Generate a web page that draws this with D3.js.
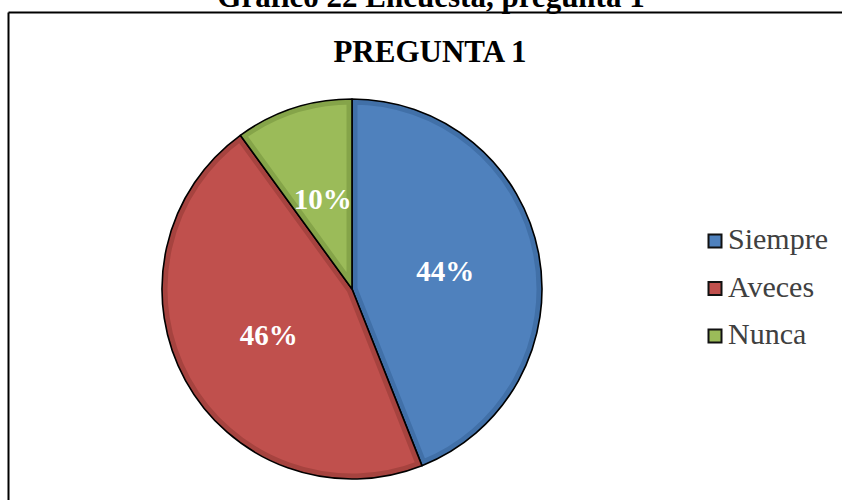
<!DOCTYPE html>
<html>
<head>
<meta charset="utf-8">
<script src="https://cdn.jsdelivr.net/npm/d3@7"></script>
<style>
  body { margin: 0; background: #fff; }
  svg { display: block; font-family: "Liberation Serif", "Times New Roman", serif; }
</style>
</head>
<body>
<svg id="pie"></svg>
<script>
// data
let categories = ['Siempre', 'Aveces', 'Nunca'];
let values = [44, 46, 10];
let colors = ['#4f81bd', '#c0504d', '#9bbb59'];
let edges = ['#4170a8', '#a6433f', '#85a449'];

// svg / plot configuration
let config = { 'svg': {}, 'pie': {}, 'legend': {} };
config.svg.width = 842;
config.svg.height = 500;
config.pie.x = 352;
config.pie.y = 289;
config.pie.radius = 190;
config.legend.x = 707;
config.legend.y = 233;
config.legend.step = 47.5;

let svg = d3.select('svg#pie');
svg.attr('width', config.svg.width);
svg.attr('height', config.svg.height);

// frame of the figure
svg.append('line')
  .attr('x1', 8.5).attr('x2', 842)
  .attr('y1', 12.5).attr('y2', 12.5)
  .style('stroke', '#000').style('stroke-width', 2);
svg.append('line')
  .attr('x1', 8.5).attr('x2', 8.5)
  .attr('y1', 12.5).attr('y2', 500)
  .style('stroke', '#000').style('stroke-width', 2);

// caption (cut off at the top, as in the source page)
svg.append('text')
  .attr('x', 431).attr('y', 7)
  .style('text-anchor', 'middle')
  .style('font-weight', 'bold')
  .style('font-size', '31px')
  .text('Gráfico 22 Encuesta, pregunta 1');

// chart title
svg.append('text')
  .attr('x', 430).attr('y', 62)
  .style('text-anchor', 'middle')
  .style('font-weight', 'bold')
  .style('font-size', '31px')
  .text('PREGUNTA 1');

let pie = d3.pie().sort(null).value(d => d.value);
let arc = d3.arc().innerRadius(0).outerRadius(config.pie.radius);

let data = categories.map((c, i) => ({ name: c, value: values[i], color: colors[i], edge: edges[i] }));
let arcs = pie(data);

let plot = svg.append('g').attr('transform', translate(config.pie.x, config.pie.y));

let defs = svg.append('defs');
defs.selectAll('clipPath')
  .data(arcs)
  .enter()
  .append('clipPath')
  .attr('id', (d, i) => 'clip' + i)
  .append('path')
  .attr('d', arc);

// slices with a darker inner edge (bevel look)
let slices = plot.selectAll('g.slice')
  .data(arcs)
  .enter()
  .append('g')
  .attr('class', 'slice');

slices.append('path')
  .attr('d', arc)
  .attr('clip-path', (d, i) => 'url(#clip' + i + ')')
  .style('fill', d => d.data.color)
  .style('stroke', d => d.data.edge)
  .style('stroke-width', 11);

slices.append('path')
  .attr('d', arc)
  .style('fill', 'none')
  .style('stroke', '#000')
  .style('stroke-width', 1.6)
  .style('stroke-linejoin', 'round');

// percentage labels
plot.selectAll('text.label')
  .data(arcs)
  .enter()
  .append('text')
  .attr('class', 'label')
  .attr('x', d => arc.centroid(d)[0])
  .attr('y', d => arc.centroid(d)[1] + 10)
  .style('text-anchor', 'middle')
  .style('font-weight', 'bold')
  .style('font-size', '29px')
  .style('fill', '#fff')
  .text(d => d.data.value + '%');

// legend
let legend = svg.append('g').attr('transform', translate(config.legend.x, config.legend.y));
let items = legend.selectAll('g.item')
  .data(data)
  .enter()
  .append('g')
  .attr('class', 'item')
  .attr('transform', (d, i) => translate(0, i * config.legend.step));

items.append('rect')
  .attr('x', 1.5).attr('y', 1.5)
  .attr('width', 13).attr('height', 13)
  .style('fill', d => d.color)
  .style('stroke', '#111')
  .style('stroke-width', 2);

items.append('text')
  .attr('x', 21).attr('y', 16)
  .style('font-size', '30px')
  .style('fill', '#404040')
  .text(d => d.name);

// helper method to make translating easier
function translate(x, y) {
  return 'translate(' + x + ',' + y + ')';
}
</script>
</body>
</html>
